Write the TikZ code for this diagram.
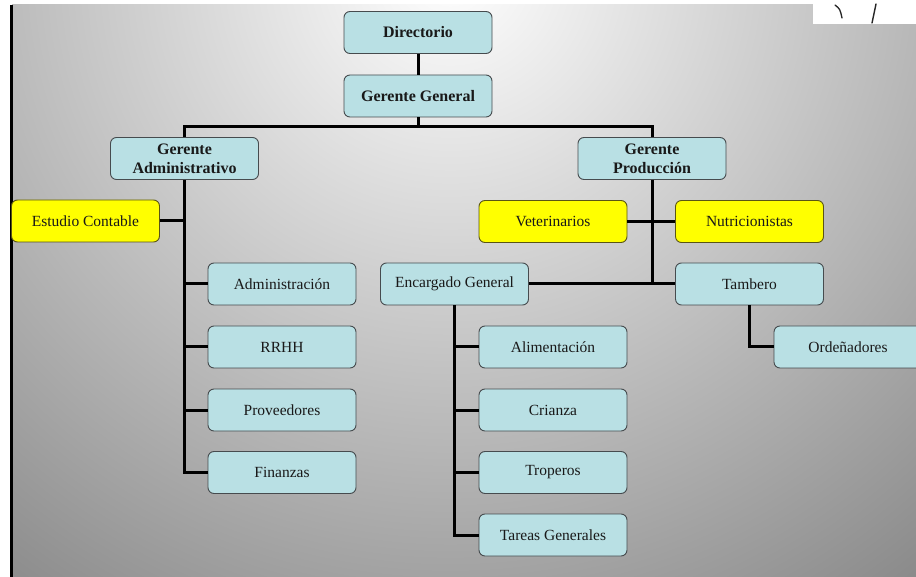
\documentclass[tikz,border=0pt]{standalone}
\usepackage{fontspec}
\setmainfont{Liberation Serif}
\definecolor{boxblue}{RGB}{185,224,228}
\definecolor{boxedge}{RGB}{70,75,78}
\definecolor{yelfill}{RGB}{255,255,0}
\definecolor{yeledge}{RGB}{90,85,20}
\definecolor{bgout}{RGB}{130,130,130}
\begin{document}
\begin{tikzpicture}[x=1pt,y=-1pt,
  box/.style={draw=boxedge, fill=boxblue, rounded corners=6pt, minimum width=148pt,
    minimum height=42pt, inner sep=0pt, line width=0.9pt, align=center,
    font=\fontsize{15.5}{19}\selectfont, text=black!90},
  bbox/.style={box, font=\fontsize{16}{20}\bfseries\selectfont},
  ybox/.style={box, draw=yeledge, fill=yelfill},
  conn/.style={line width=3pt, black}]
\useasboundingbox (0,0) rectangle (916,577);
\fill[white] (0,0) rectangle (916,577);
% background gradient
\begin{scope}
  \clip (12,5) rectangle (916,577);
  \shade[inner color=white, outer color=bgout] (450,-30) circle (820);
\end{scope}
\fill[black] (10,5) rectangle (12.5,577);
% top-right white patch with marks
\fill[white] (813,0) rectangle (916,24);
\draw[line width=1.3pt, black!85, line cap=round] (835,5) .. controls (840,9) .. (842,18);
\draw[line width=1.4pt, black!85, line cap=round] (876,4) -- (872,23);
% nodes
\node[bbox] (dir) at (418,32.5) {Directorio};
\node[bbox] (gg) at (418,96) {Gerente General};
\node[bbox] (ga) at (184.5,158.5) {Gerente\\[-1pt]Administrativo};
\node[bbox] (gp) at (652,158.5) {Gerente\\[-1pt]Producción};
\node[ybox] (ec) at (85.5,221) {Estudio Contable};
\node[box] (adm) at (282,284) {Administración};
\node[box] (rrhh) at (282,347) {RRHH};
\node[box] (prov) at (282,410) {Proveedores};
\node[box] (fin) at (282,472.5) {Finanzas};
\node[ybox] (vet) at (553,221.5) {Veterinarios};
\node[ybox] (nut) at (749.5,221.5) {Nutricionistas};
\node[box] (eg) at (454.5,284) {Encargado General};
\node[box] (tam) at (749.5,284) {Tambero};
\node[box] (ali) at (553,347) {Alimentación};
\node[box] (cri) at (553,410) {Crianza};
\node[box] (tro) at (553,472.5) {Troperos};
\node[box] (tg) at (553,535) {Tareas Generales};
\begin{scope}
  \clip (0,0) rectangle (916,577);
  \node[box] (ord) at (848,347) {Ordeñadores};
\end{scope}
\coordinate (bus) at (418,127);
% connectors
\draw[conn] (dir.south) -- (gg.north);
\draw[conn] (gg.south) -- (bus);
\draw[conn] (ga.north) |- (bus) -| (gp.north);
\draw[conn] (ga.south) |- (fin.west);
\draw[conn] (ec.east) -- (ec.east -| ga.south);
\draw[conn] (adm.west) -- (adm.west -| ga.south);
\draw[conn] (rrhh.west) -- (rrhh.west -| ga.south);
\draw[conn] (prov.west) -- (prov.west -| ga.south);
\draw[conn] (gp.south) -- (gp.south |- tam.west);
\draw[conn] (vet.east) -- (nut.west);
\draw[conn] (eg.east) -- (tam.west);
\draw[conn] (eg.south) |- (tg.west);
\draw[conn] (ali.west) -- (ali.west -| eg.south);
\draw[conn] (cri.west) -- (cri.west -| eg.south);
\draw[conn] (tro.west) -- (tro.west -| eg.south);
\draw[conn] (tam.south) |- (ord.west);
\end{tikzpicture}
\end{document}
